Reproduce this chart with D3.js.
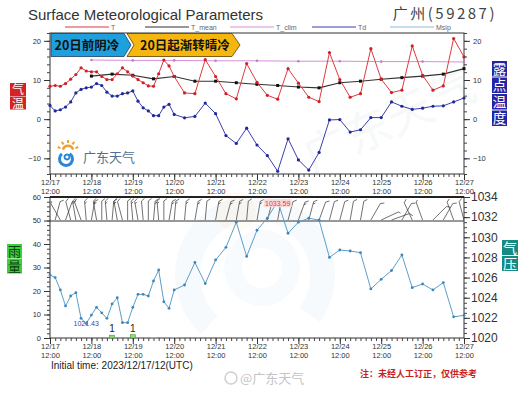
<!DOCTYPE html>
<html>
<head>
<meta charset="utf-8">
<script src="https://cdn.jsdelivr.net/npm/d3@7"></script>
<style>
  body { margin: 0; background: #fff; }
  svg { display: block; }
</style>
</head>
<body>
<div id="chart"></div>
<script>
// forecast hours from 2023-12-17 12UTC (3-hourly to 72h, then 6-hourly)
var fcstHours = [0, 3, 6, 9, 12, 15, 18, 21, 24, 27, 30, 33, 36, 39, 42, 45, 48, 51, 54, 57, 60, 63, 66, 69, 72,
  78, 84, 90, 96, 102, 108, 114, 120, 126, 132, 138, 144, 150, 156, 162, 168, 174, 180, 186, 192, 198, 204, 210, 216, 222, 228, 234, 240];

var tempT = [8.4, 8.6, 8.4, 9.1, 10.2, 11.4, 13.1, 12.3, 12.1, 12.1, 10.9, 10.1, 10.1, 11.6, 13.1, 12.1, 11.0, 10.1, 9.3, 8.5, 8.4, 11.6, 15.1, 13.6, 10.9,
  6.7, 6.5, 15.2, 10.9, 6.5, 5.2, 14.2, 9.4, 6.1, 5.1, 12.9, 9.2, 5.6, 4.5, 17.0, 10.1, 5.6, 6.5, 18.0, 10.2, 6.8, 7.4, 18.7, 11.2, 7.4, 8.5, 20.6, 15.9];

var tempTd = [3.5, 2.1, 2.4, 3.1, 4.4, 6.7, 7.6, 8.0, 8.2, 9.1, 8.6, 6.9, 5.9, 5.9, 6.5, 6.7, 7.2, 4.6, 2.9, 2.1, 0.9, 0.9, 3.1, 3.8, 1.2,
  0.35, 0.7, 4.1, 1.4, -4.2, -6.2, -2.3, -6.6, -9.3, -13.3, -5.0, -10.4, -13.0, -8.5, -0.2, -0.1, -3.3, -2.7, 0.4, 0.4, 4.4, 3.3, 2.5, 2.8, 3.3, 3.4, 4.4, 5.4];

var mslp = [1026.26, 1026.0, 1024.77, 1023.18, 1024.17, 1024.5, 1021.95, 1021.43, 1022.28, 1023.05, 1022.5, 1021.95, 1023.38, 1024.0, 1021.52, 1021.52, 1023.05, 1024.34, 1024.34, 1024.17, 1025.66, 1026.75, 1023.6, 1022.95, 1024.77,
  1025.26, 1027.5, 1025.4, 1027.75, 1029.0, 1031.5, 1028.1, 1030.7, 1031.9, 1033.59, 1030.4, 1031.5, 1031.9, 1031.7, 1028.0, 1028.74, 1028.64, 1028.47, 1024.87, 1025.83, 1026.7, 1028.24, 1025.0, 1025.36, 1024.77, 1025.5, 1022.1, 1022.25];

// wind: direction the wind blows from (deg) and speed (m/s)
var windDir = [340, 15, 330, 20, 345, 350, 340, 355, 10, 350, 0, 355, 5, 350, 345, 0, 355, 350, 355, 0, 5, 355, 0, 10, 5,
  5, 10, 5, 10, 15, 10, 5, 10, 15, 10, 15, 20, 15, 20, 15, 15, 10, 10, 30, 65, 70, 30, 335, 340, 45, 30, 340, 345];
var windSpd = [3, 3, 2, 3, 4, 5, 4, 5, 5, 5, 4, 5, 5, 5, 4, 4, 5, 5, 4, 4, 5, 5, 4, 5, 5,
  5, 5, 4, 5, 5, 5, 4, 5, 5, 5, 4, 5, 5, 4, 4, 4, 3, 3, 3, 2, 3, 3, 3, 2, 3, 3, 3, 3];

var meanHours = [24, 36, 48, 60, 72, 84, 96, 108, 120, 132, 144, 156, 168, 180, 192, 204, 216, 228, 240];
var tempMean = [11.0, 11.5, 11.2, 10.3, 10.9, 9.7, 9.7, 9.3, 8.9, 8.6, 8.2, 8.0, 9.3, 9.7, 10.2, 10.6, 11.0, 11.5, 12.9];

var climHours = [24, 48, 72, 96, 120, 144, 168, 192, 216, 240];
var tempClim = [15.1, 15.0, 15.0, 14.9, 14.9, 14.8, 14.8, 14.7, 14.7, 14.6];

var rainHours = [36, 48, 60, 72];
var rainAmt = [1.2, 1.4, 0.2, 0.1];

var legendNames = ['T', 'T_mean', 'T_clim', 'Td', 'Msip'];
var legendColors = ['#e0393e', '#333333', '#d88fd8', '#3a3fae', '#8cbcd6'];

// ---------------------------------------------------------------
var W = 524, H = 394;
var plotL = 50, plotR = 464;
var topY0 = 33, topY1 = 174;
var botY0 = 197, botY1 = 338, barbY = 221;
var sans = 'Liberation Sans, Arial, sans-serif';
var cjk = '"Noto Sans CJK SC", sans-serif';

var t0 = Date.UTC(2023, 11, 17, 12);
var toDate = function (h) { return new Date(t0 + h * 3600e3); };

var x = d3.scaleUtc().domain([toDate(0), toDate(240)]).range([plotL, plotR]);
var yT = d3.scaleLinear().domain([-14, 22]).range([topY1, topY0]);
var yRain = d3.scaleLinear().domain([0, 60]).range([botY1, botY0]);
var yP = d3.scaleLinear().domain([1020, 1034]).range([botY1, botY0]);

var svg = d3.select('#chart').append('svg')
  .attr('width', W).attr('height', H)
  .attr('font-family', sans);

svg.append('rect').attr('width', W).attr('height', H).attr('fill', '#fff');

// faint background watermark
var wm = svg.append('g');
wm.append('path')
  .attr('d', d3.arc()({ innerRadius: 55, outerRadius: 80, startAngle: -2.4, endAngle: 2.2 }))
  .attr('transform', 'translate(255,275)').attr('fill', '#2a7fd0').attr('opacity', 0.035);
wm.append('path')
  .attr('d', d3.arc()({ innerRadius: 20, outerRadius: 38, startAngle: 0, endAngle: 6.3 }))
  .attr('transform', 'translate(262,268)').attr('fill', '#2a7fd0').attr('opacity', 0.03);
wm.append('circle').attr('cx', 236).attr('cy', 212).attr('r', 20).attr('fill', '#f0a030').attr('opacity', 0.05);
wm.append('text').attr('x', 300).attr('y', 160).attr('font-family', cjk).attr('font-size', 46)
  .attr('transform', 'rotate(-25,340,140)').attr('fill', '#6a8aa8').attr('opacity', 0.05).text('广东天气');

// ---------------- title & legend ----------------
svg.append('text').attr('x', 28).attr('y', 20).attr('font-size', 15).attr('fill', '#333')
  .text('Surface Meteorological Parameters');
svg.append('text').attr('x', 497).attr('y', 19).attr('text-anchor', 'end')
  .attr('font-size', 15).attr('fill', '#444').attr('font-family', cjk)
  .attr('letter-spacing', 2.5).text('广州(59287)');

var legendX = [65, 145, 230, 312, 390];
var legend = svg.append('g').attr('font-size', 7).attr('fill', '#666');
legendNames.forEach(function (name, i) {
  legend.append('line').attr('x1', legendX[i]).attr('x2', legendX[i] + 44)
    .attr('y1', 27).attr('y2', 27).attr('stroke', legendColors[i]).attr('stroke-width', 1.2);
  legend.append('text').attr('x', legendX[i] + 46).attr('y', 29.5).text(name);
});

// ---------------- axes helpers ----------------
var fmtDay = d3.utcFormat('%m/%d'), fmtHour = d3.utcFormat('%H:%M');
var majorX = meanHours.filter(function (h) { return h % 24 === 0; }).map(toDate);
majorX.unshift(toDate(0));
var minorX = fcstHours.filter(function (h) { return h <= 72; }).map(toDate)
  .concat(d3.range(75, 241, 3).map(toDate));

function bottomAxis(y) {
  svg.append('g').attr('transform', 'translate(0,' + y + ')')
    .call(d3.axisBottom(x).tickValues(minorX).tickSize(3).tickFormat(''))
    .call(function (g) { g.select('.domain').remove(); g.selectAll('line').attr('stroke', '#444'); });
  var g = svg.append('g').attr('transform', 'translate(0,' + y + ')')
    .call(d3.axisBottom(x).tickValues(majorX).tickSize(6).tickPadding(0))
    .call(function (g) { g.select('.domain').remove(); g.selectAll('line').attr('stroke', '#333'); });
  g.selectAll('.tick text').text(null).attr('font-size', 7.5).attr('fill', '#333').attr('font-family', sans)
    .call(function (t) {
      t.append('tspan').attr('x', 0).attr('dy', '0.72em').text(function (d) { return fmtDay(d); });
      t.append('tspan').attr('x', 0).attr('dy', '1.15em').text(function (d) { return fmtHour(d); });
    });
}

function sideAxis(scale, side, xPos, majors, minors, fontSize, pad) {
  var mk = side === 'left' ? d3.axisLeft : d3.axisRight;
  svg.append('g').attr('transform', 'translate(' + xPos + ',0)')
    .call(mk(scale).tickValues(minors).tickSize(3).tickFormat(''))
    .call(function (g) { g.select('.domain').remove(); g.selectAll('line').attr('stroke', '#444'); });
  svg.append('g').attr('transform', 'translate(' + xPos + ',0)')
    .call(mk(scale).tickValues(majors).tickSize(6).tickPadding(pad).tickFormat(d3.format('d')))
    .call(function (g) {
      g.select('.domain').remove();
      g.selectAll('line').attr('stroke', '#333');
      g.selectAll('text').attr('font-size', fontSize).attr('fill', '#333').attr('font-family', sans);
    });
}

// ---------------- top panel ----------------
var topG = svg.append('g');
topG.append('rect').attr('x', plotL).attr('y', topY0).attr('width', plotR - plotL).attr('height', topY1 - topY0)
  .attr('fill', 'none').attr('stroke', '#333').attr('stroke-width', 1);

sideAxis(yT, 'left', plotL, [-10, 0, 10, 20], d3.range(-14, 23, 2), 7.5, 3);
sideAxis(yT, 'right', plotR, [-10, 0, 10, 20], d3.range(-14, 23, 2), 7.5, 3);
bottomAxis(topY1);

// logo
var logo = svg.append('g');
logo.append('path').attr('d', d3.arc()({ innerRadius: 4, outerRadius: 6.5, startAngle: -1.3, endAngle: 1.3 }))
  .attr('transform', 'translate(68,151)').attr('fill', '#f0a030');
d3.range(-1.2, 1.3, 0.6).forEach(function (a) {
  logo.append('line').attr('x1', 68 + 8 * Math.sin(a)).attr('y1', 151 - 8 * Math.cos(a))
    .attr('x2', 68 + 11 * Math.sin(a)).attr('y2', 151 - 11 * Math.cos(a))
    .attr('stroke', '#f0a030').attr('stroke-width', 2);
});
logo.append('path').attr('d', d3.arc()({ innerRadius: 5, outerRadius: 8, startAngle: 0.6, endAngle: 5.6 }))
  .attr('transform', 'translate(66,159)').attr('fill', '#2a86d6');
logo.append('path').attr('d', d3.arc()({ innerRadius: 1.5, outerRadius: 3.5, startAngle: 0, endAngle: 6.28 }))
  .attr('transform', 'translate(67,157)').attr('fill', '#2a86d6');
logo.append('text').attr('x', 83).attr('y', 162).attr('font-family', cjk).attr('font-size', 13)
  .attr('fill', '#52708e').text('广东天气');

// banner arrows
var bannerPts1 = [[51, 33.5], [124, 33.5], [131, 45], [124, 56.5], [51, 56.5]];
var bannerPts2 = [[127, 33.5], [232, 33.5], [240, 45], [232, 56.5], [127, 56.5], [134, 45]];
topG.append('polygon').attr('points', bannerPts1.join(' ')).attr('fill', '#1ea0dd').attr('stroke', '#1d3f66').attr('stroke-width', 0.8);
topG.append('polygon').attr('points', bannerPts2.join(' ')).attr('fill', '#f5b70f').attr('stroke', '#5a4000').attr('stroke-width', 0.8);
topG.append('text').attr('x', 87).attr('y', 50).attr('text-anchor', 'middle').attr('font-family', cjk)
  .attr('font-weight', 'bold').attr('font-size', 12.5).attr('fill', '#111').text('20日前阴冷');
topG.append('text').attr('x', 185).attr('y', 50).attr('text-anchor', 'middle').attr('font-family', cjk)
  .attr('font-weight', 'bold').attr('font-size', 12.5).attr('fill', '#111').text('20日起渐转晴冷');

// series
function series(g, hours, vals, scale, color, width) {
  var pts = hours.map(function (h, i) { return [x(toDate(h)), scale(vals[i])]; });
  g.append('path').attr('d', d3.line()(pts)).attr('fill', 'none').attr('stroke', color).attr('stroke-width', width);
  return pts;
}

var climPts = series(topG, climHours, tempClim, yT, '#d88fd8', 1);
topG.selectAll('.clim-pt').data(climPts).enter().append('circle')
  .attr('cx', function (d) { return d[0]; }).attr('cy', function (d) { return d[1]; })
  .attr('r', 1.3).attr('fill', '#c77ac7');

var meanPts = series(topG, meanHours, tempMean, yT, '#333', 1.1);
topG.selectAll('.mean-pt').data(meanPts).enter().append('rect')
  .attr('x', function (d) { return d[0] - 1.5; }).attr('y', function (d) { return d[1] - 1.5; })
  .attr('width', 3).attr('height', 3).attr('fill', '#111');

var tPts = series(topG, fcstHours, tempT, yT, '#e0393e', 1);
topG.selectAll('.t-pt').data(tPts).enter().append('circle')
  .attr('cx', function (d) { return d[0]; }).attr('cy', function (d) { return d[1]; })
  .attr('r', 1.6).attr('fill', '#cf1f28');

var tdPts = series(topG, fcstHours, tempTd, yT, '#3a3fae', 1);
topG.selectAll('.td-pt').data(tdPts).enter().append('circle')
  .attr('cx', function (d) { return d[0]; }).attr('cy', function (d) { return d[1]; })
  .attr('r', 1.6).attr('fill', '#22279a');

// ---------------- bottom panel ----------------
var bot = svg.append('g');
bot.append('rect').attr('x', plotL).attr('y', botY0).attr('width', plotR - plotL).attr('height', botY1 - botY0)
  .attr('fill', 'none').attr('stroke', '#333').attr('stroke-width', 1);
bot.append('line').attr('x1', plotL).attr('x2', plotR).attr('y1', botY0).attr('y2', botY0)
  .attr('stroke', '#222').attr('stroke-width', 2);
bot.append('line').attr('x1', plotL).attr('x2', plotR).attr('y1', barbY).attr('y2', barbY)
  .attr('stroke', '#333').attr('stroke-width', 1);

sideAxis(yRain, 'left', plotL, d3.range(0, 61, 10), d3.range(0, 61, 2), 7.5, 3);
sideAxis(yP, 'right', plotR, d3.range(1020, 1035, 2), d3.range(1020, 1034.1, 0.5), 12, 1);
bottomAxis(botY1);

// wind barbs
svg.append('clipPath').attr('id', 'barbclip').append('rect')
  .attr('x', plotL).attr('y', botY0).attr('width', plotR - plotL).attr('height', barbY - botY0);
var barbs = bot.append('g').attr('clip-path', 'url(#barbclip)')
  .attr('stroke', '#333').attr('stroke-width', 0.7).attr('fill', 'none');
fcstHours.forEach(function (h, i) {
  var bx = x(toDate(h)), by = barbY - 1, L = 19;
  var a = windDir[i] * Math.PI / 180;
  var ux = Math.sin(a), uy = -Math.cos(a);     // staff direction
  var px = Math.cos(a), py = Math.sin(a);      // feather side
  var tx = bx + L * ux, ty = by + L * uy;
  var p = d3.path();
  p.moveTo(bx, by); p.lineTo(tx, ty);
  var n = Math.round(windSpd[i] / 2), full = Math.floor(n / 2), half = n % 2;
  var pos = 0;
  for (var k = 0; k < full; k++) {
    var sx = tx - pos * ux, sy = ty - pos * uy;
    p.moveTo(sx, sy); p.lineTo(sx + 4 * (px * 0.8 + ux * 0.6), sy + 4 * (py * 0.8 + uy * 0.6));
    pos += 2.5;
  }
  if (half) {
    var hx = tx - pos * ux, hy = ty - pos * uy;
    p.moveTo(hx, hy); p.lineTo(hx + 2.5 * (px * 0.8 + ux * 0.6), hy + 2.5 * (py * 0.8 + uy * 0.6));
  }
  barbs.append('path').attr('d', p.toString());
});

// rain bars
rainHours.forEach(function (h, i) {
  var rx = x(toDate(h));
  bot.append('rect').attr('x', rx - 2.5).attr('y', yRain(rainAmt[i])).attr('width', 5)
    .attr('height', yRain(0) - yRain(rainAmt[i]))
    .attr('fill', rainAmt[i] >= 0.5 ? '#8fe07a' : '#ccc').attr('stroke', rainAmt[i] >= 0.5 ? '#3a9a2a' : '#aaa')
    .attr('stroke-width', 0.6);
  if (rainAmt[i] >= 0.5) {
    bot.append('text').attr('x', rx).attr('y', yRain(rainAmt[i]) - 3).attr('text-anchor', 'middle')
      .attr('font-size', 10).attr('fill', '#222').text(Math.floor(rainAmt[i]));
  }
});

// pressure
var pPts = series(bot, fcstHours, mslp, yP, '#5b9fcc', 1);
bot.selectAll('.p-pt').data(pPts).enter().append('circle')
  .attr('cx', function (d) { return d[0]; }).attr('cy', function (d) { return d[1]; })
  .attr('r', 1.4).attr('fill', '#3f86b8');

var iMin = d3.minIndex(mslp), iMax = d3.maxIndex(mslp);
bot.append('text').attr('x', pPts[iMin][0]).attr('y', pPts[iMin][1] + 2).attr('text-anchor', 'middle')
  .attr('font-size', 7).attr('fill', '#3b3fb5').text(mslp[iMin].toFixed(2));
var maxLbl = bot.append('g');
maxLbl.append('rect').attr('x', pPts[iMax][0] - 14).attr('y', pPts[iMax][1] - 2).attr('width', 28).attr('height', 8)
  .attr('fill', '#fbdada');
maxLbl.append('text').attr('x', pPts[iMax][0]).attr('y', pPts[iMax][1] + 4.5).attr('text-anchor', 'middle')
  .attr('font-size', 7).attr('fill', '#e04040').text(mslp[iMax].toFixed(2));

// ---------------- side tags (vertical text, one run each) ----------------
function tag(chars, x0, y0, w, h, gap, bg, fg, fs) {
  var n = chars.length;
  d3.range(n).forEach(function (i) {
    svg.append('rect').attr('x', x0).attr('y', y0 + i * (h + gap)).attr('width', w).attr('height', h).attr('fill', bg);
  });
  svg.append('text')
    .attr('x', x0 + w / 2).attr('y', y0 + (h - fs) / 2)
    .attr('writing-mode', 'vertical-rl')
    .style('text-orientation', 'upright')
    .attr('letter-spacing', h + gap - fs)
    .attr('font-family', cjk).attr('font-size', fs).attr('fill', fg)
    .text(chars);
}
tag('气温', 10, 83, 16, 13, 0.5, '#d52222', '#fff', 12);
tag('露点温度', 492, 61, 15, 15.5, 1, '#2424a6', '#fff', 13.5);
tag('雨量', 7, 244, 15, 14.5, 0.5, '#3ad23a', '#0b3a0b', 13);
tag('气压', 502, 240, 16, 15, 1, '#178a84', '#fff', 14);

// ---------------- footer ----------------
svg.append('text').attr('x', 51).attr('y', 369).attr('font-size', 10).attr('fill', '#222')
  .text('Initial time: 2023/12/17/12(UTC)');
svg.append('text').attr('x', 360).attr('y', 377).attr('font-size', 9).attr('font-weight', 'bold')
  .attr('font-family', cjk).attr('fill', '#c81e1e').text('注：未经人工订正，仅供参考');
svg.append('circle').attr('cx', 231).attr('cy', 378).attr('r', 6).attr('fill', 'none')
  .attr('stroke', '#cfcfcf').attr('stroke-width', 1.5);
svg.append('text').attr('x', 240).attr('y', 383).attr('font-size', 13).attr('font-family', cjk)
  .attr('fill', '#c4c4c4').text('@广东天气');
</script>
</body>
</html>
